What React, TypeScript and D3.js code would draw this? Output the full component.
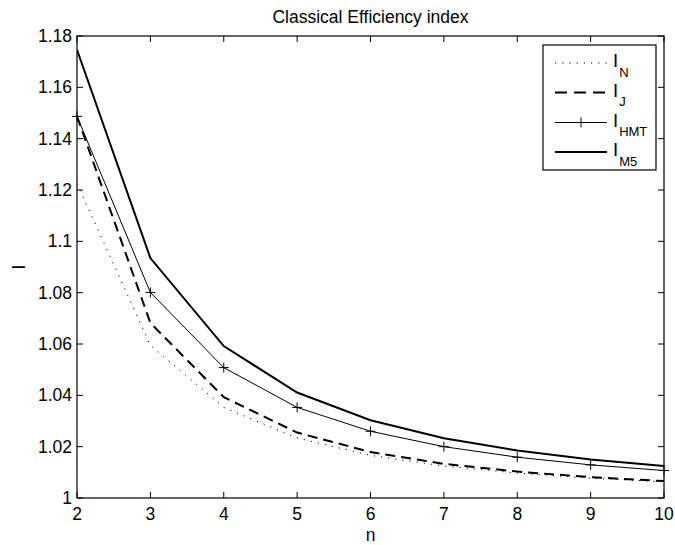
import React from "react";
import * as d3 from "d3";

const nValues = [2, 3, 4, 5, 6, 7, 8, 9, 10];
const iN = [1.1225, 1.0595, 1.0353, 1.0234, 1.0166, 1.0125, 1.0097, 1.0077, 1.0063];
const iJ = [1.1487, 1.0682, 1.0393, 1.0255, 1.0179, 1.0133, 1.0103, 1.0081, 1.0066];
const iHMT = [1.1487, 1.0801, 1.0508, 1.0353, 1.026, 1.02, 1.0159, 1.0129, 1.0107];
const iM5 = [1.1746, 1.0935, 1.0592, 1.0411, 1.0303, 1.0233, 1.0185, 1.015, 1.0125];
const xTicks = [2, 3, 4, 5, 6, 7, 8, 9, 10];
const yTicks = [1, 1.02, 1.04, 1.06, 1.08, 1.1, 1.12, 1.14, 1.16, 1.18];
const legendLabels = [
  { main: "I", sub: "N" },
  { main: "I", sub: "J" },
  { main: "I", sub: "HMT" },
  { main: "I", sub: "M5" },
];

const W = 675;
const H = 545;
const L = 77;
const R = 664;
const T = 36;
const B = 498;
const FONT = "'Liberation Sans', Arial, Helvetica, sans-serif";
const FS = 17.5;

export default function App() {
  const x = d3.scaleLinear().domain([2, 10]).range([L, R]);
  const y = d3.scaleLinear().domain([1, 1.18]).range([B, T]);
  const line = d3
    .line<number>()
    .x((_, i) => x(nValues[i]))
    .y((d) => y(d));

  const series = [
    { data: iN, width: 1, dash: "1.2,6", marker: false },
    { data: iJ, width: 2, dash: "10,6", marker: false },
    { data: iHMT, width: 1, dash: undefined, marker: true },
    { data: iM5, width: 2, dash: undefined, marker: false },
  ];

  const lgLeft = 543;
  const lgTop = 45;
  const lgRight = 656;
  const lgBottom = 170;
  const rowY = [63, 92.5, 122.5, 152];
  const lx0 = 555;
  const lx1 = 607;
  const ms = 5;

  return (
    <svg
      width={W}
      height={H}
      style={{ position: "absolute", left: 0, top: 0, background: "#fff" }}
      fontFamily={FONT}
    >
      <rect x={0} y={0} width={W} height={H} fill="#fff" />
      <defs>
        <clipPath id="plotclip">
          <rect x={L} y={T} width={R - L} height={B - T} />
        </clipPath>
      </defs>
      <rect x={L} y={T} width={R - L} height={B - T} fill="#fff" />
      {/* ticks */}
      {xTicks.map((t) => (
        <g key={"xt" + t}>
          <line x1={x(t)} x2={x(t)} y1={B} y2={B - 6} stroke="#000" strokeWidth={1} />
          <line x1={x(t)} x2={x(t)} y1={T} y2={T + 6} stroke="#000" strokeWidth={1} />
          <text x={x(t)} y={520} fontSize={FS} textAnchor="middle" fill="#000">
            {t}
          </text>
        </g>
      ))}
      {yTicks.map((t) => (
        <g key={"yt" + t}>
          <line x1={L} x2={L + 6} y1={y(t)} y2={y(t)} stroke="#000" strokeWidth={1} />
          <line x1={R} x2={R - 6} y1={y(t)} y2={y(t)} stroke="#000" strokeWidth={1} />
          <text x={72} y={y(t) + 6} fontSize={FS} textAnchor="end" fill="#000">
            {String(+t.toFixed(2))}
          </text>
        </g>
      ))}
      {/* lines */}
      <g clipPath="url(#plotclip)">
        {series.map((s, k) => (
          <path
            key={"s" + k}
            d={line(s.data) || ""}
            fill="none"
            stroke="#000"
            strokeWidth={s.width}
            strokeDasharray={s.dash}
            strokeLinejoin="miter"
          />
        ))}
      </g>
      {iHMT.map((v, i) => (
        <g key={"m" + i} stroke="#000" strokeWidth={1}>
          <line x1={x(nValues[i]) - ms} x2={x(nValues[i]) + ms} y1={y(v)} y2={y(v)} />
          <line x1={x(nValues[i])} x2={x(nValues[i])} y1={y(v) - ms} y2={y(v) + ms} />
        </g>
      ))}
      <rect x={L} y={T} width={R - L} height={B - T} fill="none" stroke="#000" strokeWidth={1.2} />
      {/* title and labels */}
      <text x={(L + R) / 2} y={22.5} fontSize={FS} textAnchor="middle" fill="#000">
        Classical Efficiency index
      </text>
      <text x={(L + R) / 2} y={541} fontSize={FS} textAnchor="middle" fill="#000">
        n
      </text>
      <text
        transform={`translate(25,${(T + B) / 2}) rotate(-90)`}
        fontSize={FS}
        textAnchor="middle"
        fill="#000"
      >
        I
      </text>
      {/* legend */}
      <rect
        x={lgLeft}
        y={lgTop}
        width={lgRight - lgLeft}
        height={lgBottom - lgTop}
        fill="#fff"
        stroke="#000"
        strokeWidth={1.2}
      />
      {series.map((s, k) => (
        <g key={"lg" + k}>
          <line
            x1={lx0}
            x2={lx1}
            y1={rowY[k]}
            y2={rowY[k]}
            stroke="#000"
            strokeWidth={s.width}
            strokeDasharray={s.dash === "10,6" ? "12,7" : s.dash}
          />
          {s.marker && (
            <g stroke="#000" strokeWidth={1}>
              <line x1={(lx0 + lx1) / 2 - ms} x2={(lx0 + lx1) / 2 + ms} y1={rowY[k]} y2={rowY[k]} />
              <line x1={(lx0 + lx1) / 2} x2={(lx0 + lx1) / 2} y1={rowY[k] - ms} y2={rowY[k] + ms} />
            </g>
          )}
          <text x={613} y={rowY[k] + 4} fontSize={18.5} fill="#000">
            {legendLabels[k].main}
            <tspan fontSize={13} dx={1} dy={9.5}>
              {legendLabels[k].sub}
            </tspan>
          </text>
        </g>
      ))}
    </svg>
  );
}
